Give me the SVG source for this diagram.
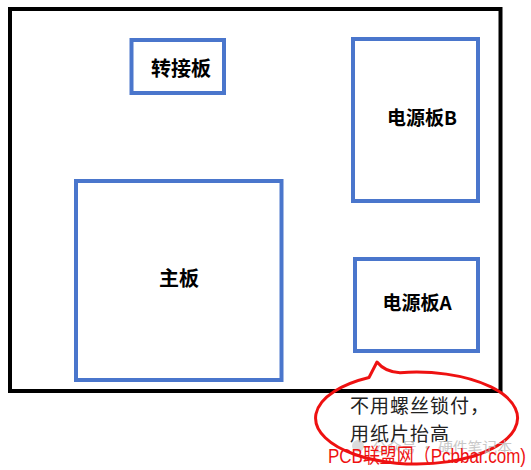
<svg xmlns="http://www.w3.org/2000/svg" width="531" height="470" viewBox="0 0 531 470">
<style>
.board{fill:#ffffff;stroke:#4a76cc;stroke-width:4}
.lbl{font-family:"Noto Sans CJK SC","Liberation Sans",sans-serif;font-weight:bold;fill:#000;text-anchor:middle}
.note{font-family:"Noto Sans CJK SC",sans-serif;font-size:19px;fill:#222;letter-spacing:1px}
</style>
<rect width="531" height="470" fill="#fff"/>
<g id="enclosure"><rect x="10" y="9" width="490.5" height="382" fill="none" stroke="#000" stroke-width="4"/></g>
<g id="adapter"><rect class="board" x="131.5" y="40" width="92.5" height="53"/><text class="lbl" x="181" y="76" font-size="20">转接板</text></g>
<g id="powerB"><rect class="board" x="353" y="39" width="125" height="162"/><text class="lbl" x="422" y="125" font-size="19">电源板B</text></g>
<g id="main"><rect class="board" x="76" y="181" width="205.5" height="199"/><text class="lbl" x="179" y="286" font-size="20">主板</text></g>
<g id="powerA"><rect class="board" x="355" y="259" width="123" height="92"/><text class="lbl" x="417" y="310" font-size="19">电源板A</text></g>
<g id="connectors"></g>
<g id="callout">
<path d="M369,377.5 L377,362 Q385,372 400,372.7 A101,46 0 1 1 369,377.5 Z" fill="none" stroke="#ee1111" stroke-width="3" stroke-linejoin="round"/>
<text class="note" x="350" y="413">不用螺丝锁付，</text>
<text class="note" x="350" y="441">用纸片抬高</text>
</g>
<g id="watermark">
<circle cx="358" cy="446" r="6" fill="#cccccc" opacity="0.7"/>
<text x="372" y="452" font-family="Noto Sans CJK SC,sans-serif" font-size="14" fill="#bbbbbb" opacity="0.8" textLength="140" lengthAdjust="spacingAndGlyphs">公众号 · 硬件笔记本</text>
<text x="328" y="463" font-family="Liberation Sans,Noto Sans CJK SC,sans-serif" font-size="20" fill="#ee1111" textLength="198" lengthAdjust="spacingAndGlyphs">PCB联盟网（Pcbbar.com)</text>
</g>
</svg>
